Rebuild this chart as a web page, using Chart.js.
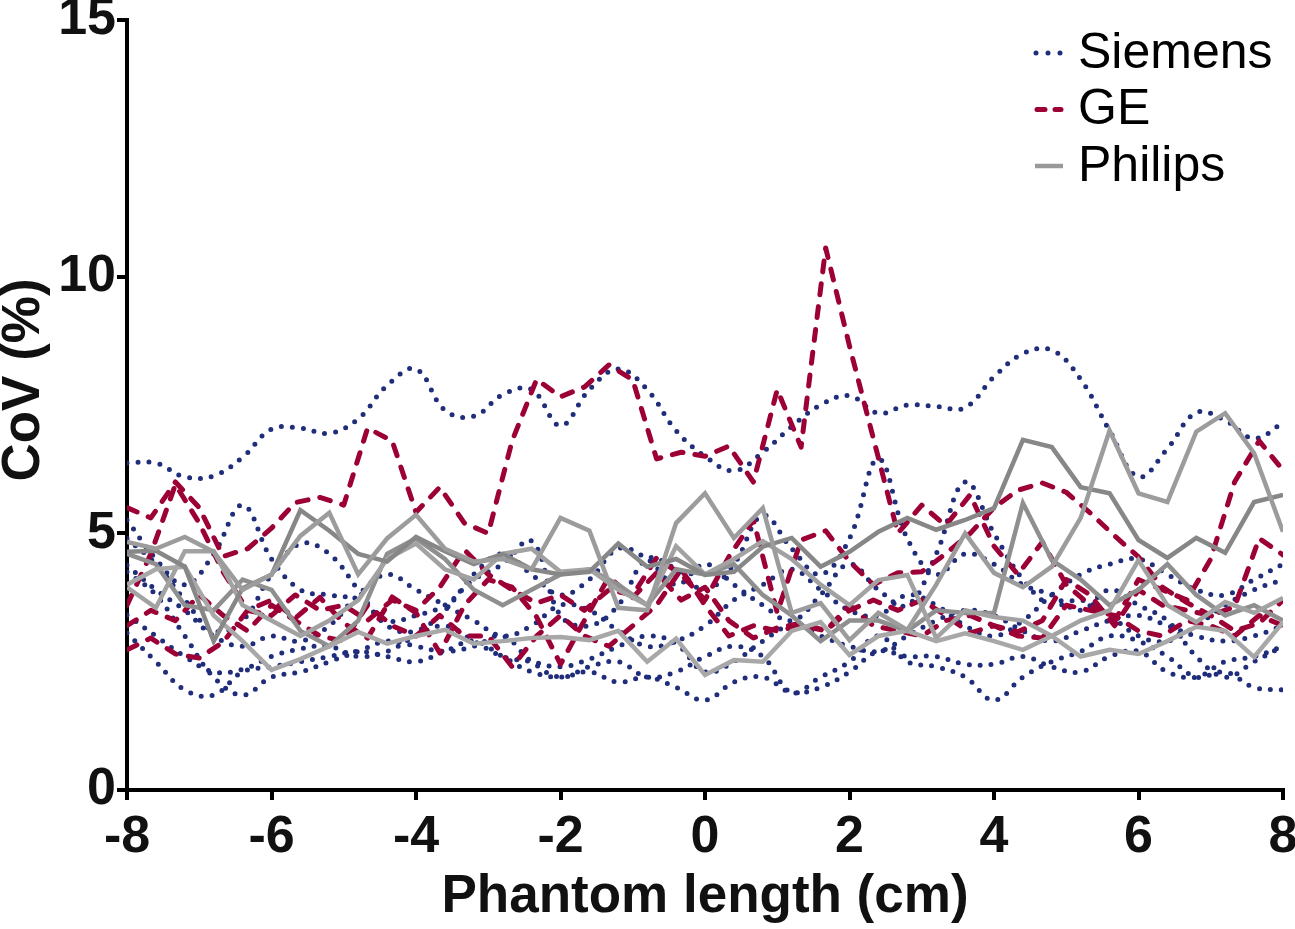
<!DOCTYPE html>
<html>
<head>
<meta charset="utf-8">
<title>CoV along phantom length</title>
<script src="https://cdn.jsdelivr.net/npm/chart.js@4.4.1/dist/chart.umd.min.js"></script>
<style>
    body { margin: 0; background: #ffffff; }
    #wrap { width: 1295px; height: 929px; }
</style>
</head>
<body>
<div id="wrap"><canvas id="covChart"></canvas></div>
<script>
// Positions along the phantom (cm)
const xGrid = [-8, -7.6, -7.2, -6.8, -6.4, -6, -5.6, -5.2, -4.8, -4.4, -4, -3.6, -3.2, -2.8, -2.4, -2, -1.6, -1.2, -0.8, -0.4,
    0, 0.4, 0.8, 1.2, 1.6, 2, 2.4, 2.8, 3.2, 3.6, 4, 4.4, 4.8, 5.2, 5.6, 6, 6.4, 6.8, 7.2, 7.6, 8];
const xGE = [-8, -7.67, -7.33, -7, -6.67, -6.33, -6, -5.67, -5.33, -5, -4.67, -4.33, -4, -3.67, -3.33, -3, -2.67, -2.33,
    -2, -1.67, -1.33, -1, -0.67, -0.33, 0, 0.33, 0.67, 1, 1.33, 1.67, 2, 2.33, 2.67, 3, 3.33, 3.67, 4, 4.33, 4.67, 5,
    5.33, 5.67, 6, 6.33, 6.67, 7, 7.33, 7.67, 8];

// Siemens scanners (CoV %)
const siemens1 = [6.37, 6.37, 6.1, 6.12, 6.48, 7.03, 7.05, 6.95, 7.23, 7.88, 8.2, 7.4, 7.28, 7.7, 7.8, 7.1, 7.8, 8.2, 7.8, 7.0,
    6.5, 6.22, 6.58, 7.08, 7.5, 7.68, 7.34, 7.5, 7.47, 7.45, 8.05, 8.5, 8.57, 8.0, 7.0, 6.1, 6.65, 7.35, 7.2, 6.85, 7.15];
const siemens2 = [5.26, 4.5, 4.0, 4.6, 5.55, 4.5, 3.9, 3.8, 3.7, 3.3, 3.4, 3.6, 4.1, 4.4, 4.85, 3.4, 3.2, 3.6, 4.5, 4.3,
    3.9, 4.4, 5.35, 4.7, 4.2, 4.9, 6.45, 4.9, 4.2, 4.6, 4.4, 4.0, 3.8, 3.5, 3.9, 3.6, 3.3, 2.6, 2.2, 2.5, 2.8];
const siemens3 = [4.9, 4.4, 3.7, 3.1, 3.3, 4.2, 4.8, 4.6, 3.9, 3.2, 3.1, 3.5, 4.2, 4.6, 4.2, 3.8, 4.1, 4.7, 4.5, 4.0,
    4.4, 4.0, 3.6, 3.3, 3.8, 4.4, 3.9, 3.6, 4.6, 6.0, 5.0, 4.1, 3.6, 3.7, 3.4, 3.0, 2.9, 3.2, 3.6, 3.9, 4.1];
const siemens4 = [4.38, 3.9, 3.5, 3.0, 2.8, 3.0, 2.9, 3.2, 3.8, 4.2, 3.9, 3.6, 3.3, 3.0, 3.2, 3.6, 3.5, 3.1, 2.8, 2.9,
    3.2, 3.7, 4.0, 4.3, 3.9, 3.5, 3.4, 3.8, 3.6, 3.2, 3.0, 3.3, 3.8, 4.2, 4.4, 4.5, 4.2, 3.9, 3.8, 4.1, 4.4];
const siemens5 = [3.41, 3.0, 2.6, 2.3, 2.35, 2.6, 2.75, 2.8, 2.6, 2.7, 3.0, 3.2, 2.9, 2.6, 2.5, 2.4, 2.55, 2.8, 3.0, 2.85,
    2.3, 2.5, 2.9, 3.2, 3.0, 2.8, 2.7, 3.0, 3.3, 3.5, 3.4, 3.1, 2.9, 3.1, 3.3, 3.4, 3.2, 3.0, 2.9, 3.0, 3.2];
const siemens6 = [3.06, 2.5, 1.95, 1.85, 2.3, 2.4, 2.5, 2.6, 2.7, 2.6, 2.5, 2.7, 2.9, 2.6, 2.3, 2.2, 2.3, 2.1, 2.2, 2.0,
    1.75, 2.1, 2.2, 1.9, 2.0, 2.3, 2.7, 2.6, 2.6, 2.45, 2.45, 2.6, 2.4, 2.3, 2.6, 2.7, 2.3, 2.2, 2.5, 2.6, 2.8];
const siemens7 = [4.25, 3.8, 3.0, 2.2, 1.85, 2.2, 2.3, 2.5, 2.7, 2.9, 2.8, 2.7, 2.8, 3.0, 2.5, 2.2, 2.4, 2.5, 2.2, 2.3,
    2.6, 2.8, 2.6, 1.9, 2.2, 2.5, 3.0, 2.5, 2.4, 2.2, 1.75, 2.2, 2.5, 2.7, 3.0, 2.9, 2.6, 2.2, 2.3, 2.0, 1.95];

// GE scanners (CoV %)
const ge1 = [5.5, 5.3, 6.0, 5.5, 4.55, 4.7, 5.1, 5.6, 5.7, 5.55, 7.05, 6.8, 5.41, 5.9, 5.2, 5.0, 6.8, 8.0, 7.66, 7.85,
    8.28, 7.99, 6.45, 6.58, 6.5, 6.7, 6.0, 7.8, 6.68, 10.56, 8.65, 6.85, 5.0, 5.55, 5.15, 5.75, 4.75, 4.2, 4.83, 4.0,
    3.6, 3.3, 4.1, 3.9, 3.7, 4.5, 6.0, 6.8, 6.23];
const ge2 = [2.73, 2.96, 2.65, 2.57, 2.88, 3.5, 3.7, 3.35, 3.75, 3.25, 2.96, 3.76, 3.45, 2.67, 3.6, 4.1, 3.95, 3.37, 2.45, 3.3,
    4.15, 3.75, 4.23, 3.7, 3.95, 3.3, 2.96, 3.16, 3.25, 3.1, 3.5, 3.7, 3.5, 3.7, 3.4, 3.06, 3.2, 3.08, 3.3, 4.1,
    3.8, 3.2, 3.9, 3.6, 3.5, 3.4, 3.57, 4.9, 4.58];
const ge3 = [3.6, 4.6, 5.95, 5.2, 4.25, 3.5, 3.4, 3.8, 3.5, 3.6, 3.3, 3.7, 3.5, 3.95, 4.68, 4.2, 3.9, 3.64, 3.8, 3.5,
    3.9, 3.8, 4.52, 4.2, 3.7, 4.54, 5.26, 3.45, 4.87, 5.05, 4.45, 4.0, 4.23, 4.25, 4.6, 5.0, 5.5, 5.84, 5.98, 5.8,
    5.4, 4.95, 4.54, 3.95, 3.65, 3.4, 3.1, 3.25, 3.7];
const ge4 = [3.2, 3.5, 3.3, 3.8, 3.4, 3.1, 3.6, 3.3, 3.0, 2.9, 3.6, 3.2, 3.0, 3.4, 3.0, 3.0, 2.4, 3.0, 3.4, 3.0,
    2.8, 3.2, 3.6, 4.3, 3.6, 3.0, 3.2, 3.1, 3.2, 3.1, 3.6, 3.2, 3.1, 3.0, 3.3, 3.4, 3.2, 3.0, 2.96, 3.6,
    3.5, 3.4, 3.1, 3.0, 3.3, 3.2, 3.0, 3.4, 3.2];

// Philips scanners (CoV %)
const philips1 = [4.83, 4.7, 4.93, 4.64, 3.9, 4.2, 4.95, 5.4, 4.2, 4.9, 5.36, 4.7, 4.45, 4.5, 4.3, 5.3, 5.05, 3.55, 3.5, 5.2,
    5.78, 4.91, 5.49, 3.45, 3.64, 2.92, 3.45, 3.12, 4.0, 5.0, 4.23, 3.95, 4.35, 5.3, 7.0, 5.78, 5.61, 6.98, 7.34, 6.56, 5.03];
const philips2 = [4.64, 4.66, 4.35, 2.9, 3.93, 4.19, 5.45, 5.05, 4.6, 4.45, 4.93, 4.65, 4.4, 4.6, 4.3, 4.2, 4.25, 4.8, 4.35, 4.5,
    4.19, 4.25, 4.74, 4.91, 4.35, 4.64, 5.03, 5.3, 5.07, 5.26, 5.49, 6.82, 6.68, 5.9, 5.78, 4.87, 4.52, 4.91, 4.62, 5.61, 5.75];
const philips3 = [4.0, 4.3, 4.35, 3.4, 2.9, 2.34, 2.55, 2.8, 3.08, 2.85, 3.0, 3.12, 2.85, 2.9, 2.96, 2.98, 2.92, 3.1, 2.5, 2.95,
    2.24, 2.53, 2.5, 3.1, 3.27, 2.63, 3.0, 3.1, 2.9, 3.05, 2.9, 2.73, 3.0, 2.6, 2.73, 2.65, 2.9, 3.18, 3.1, 2.59, 3.27];
const philips4 = [3.95, 3.55, 4.65, 4.65, 3.6, 3.3, 3.0, 3.3, 3.7, 4.5, 4.8, 4.3, 4.1, 4.6, 4.7, 4.25, 4.3, 3.9, 3.6, 4.75,
    4.2, 4.5, 4.85, 4.5, 4.0, 3.6, 4.09, 4.19, 2.96, 3.5, 3.37, 3.3, 3.0, 3.3, 3.5, 4.48, 3.6, 3.27, 3.66, 3.45, 3.74];
const philips5 = [4.6, 4.4, 3.6, 3.5, 4.1, 3.9, 3.1, 2.8, 3.3, 4.6, 4.9, 4.5, 3.9, 3.6, 3.9, 4.2, 4.3, 4.0, 3.6, 4.3,
    4.2, 4.4, 3.8, 3.4, 2.9, 3.3, 3.3, 3.1, 3.5, 3.45, 3.45, 5.59, 4.48, 4.1, 3.6, 3.9, 4.4, 3.8, 3.4, 3.6, 3.3];

const vendors = ['Siemens', 'GE', 'Philips'];
const siemensSeries = [siemens1, siemens2, siemens3, siemens4, siemens5, siemens6, siemens7];
const geSeries = [ge1, ge2, ge3, ge4];
const philipsSeries = [philips1, philips2, philips3, philips4, philips5];
const philipsGreys = ['#9c9c9c', '#878787', '#a8a8a8', '#a2a2a2', '#8f8f8f'];
const yTitle = 'CoV (%)';

const FONT = '"Liberation Sans", Arial, Helvetica, sans-serif';
const SIEMENS_BLUE = '#1f2d7b';
const GE_RED = '#9c0036';

// Line style of each vendor, shared by the plot and the legend
const vendorStyles = {
    'Siemens': { color: SIEMENS_BLUE, width: 5, dash: [0, 11], cap: 'round' },
    'GE': { color: GE_RED, width: 5, dash: [11, 12], cap: 'round' },
    'Philips': { color: '#999999', width: 4.5, dash: [], cap: 'butt' }
};

function toPoints(xs, values) {
    return values.map((v, i) => ({ x: xs[i], y: v }));
}

// Build datasets
const datasets = [];

siemensSeries.forEach(values => {
    const s = vendorStyles['Siemens'];
    datasets.push({
        label: 'Siemens',
        data: toPoints(xGrid, values),
        borderColor: s.color,
        borderWidth: s.width,
        borderDash: s.dash,
        borderCapStyle: s.cap,
        tension: 0.4,
        order: 3
    });
});

geSeries.forEach(values => {
    const s = vendorStyles['GE'];
    datasets.push({
        label: 'GE',
        data: toPoints(xGE, values),
        borderColor: s.color,
        borderWidth: s.width,
        borderDash: s.dash,
        borderCapStyle: s.cap,
        borderJoinStyle: 'round',
        tension: 0,
        order: 2
    });
});

philipsSeries.forEach((values, i) => {
    datasets.push({
        label: 'Philips',
        data: toPoints(xGrid, values),
        borderColor: philipsGreys[i],
        borderWidth: vendorStyles['Philips'].width,
        borderJoinStyle: 'miter',
        tension: 0,
        order: 1
    });
});

// Legend with one entry per vendor, plus the y axis title
const vendorLegend = {
    id: 'vendorLegend',
    afterDraw(chart) {
        const ctx = chart.ctx;
        ctx.save();
        vendors.forEach((name, i) => {
            const s = vendorStyles[name];
            const y = 53 + i * 56.5;
            ctx.strokeStyle = s.color;
            ctx.lineWidth = s.width;
            ctx.lineCap = s.cap;
            ctx.beginPath();
            if (name === 'GE') {
                ctx.setLineDash([8, 10]);
                ctx.moveTo(1037, y);
                ctx.lineTo(1061, y);
            } else if (name === 'Siemens') {
                ctx.setLineDash([0, 12]);
                ctx.moveTo(1036, y);
                ctx.lineTo(1062, y);
            } else {
                ctx.setLineDash([]);
                ctx.moveTo(1035, y);
                ctx.lineTo(1063, y);
            }
            ctx.stroke();
            ctx.setLineDash([]);
            ctx.fillStyle = '#000000';
            ctx.font = '50px ' + FONT;
            ctx.textAlign = 'left';
            ctx.textBaseline = 'middle';
            ctx.fillText(name, 1078, y + 1);
        });

        // Y axis title, rotated
        ctx.translate(24, 380);
        ctx.rotate(-Math.PI / 2);
        ctx.font = 'bold 53px ' + FONT;
        ctx.fillStyle = '#111111';
        ctx.textAlign = 'center';
        ctx.textBaseline = 'middle';
        ctx.fillText(yTitle, 0, 0);
        ctx.restore();
    }
};

const tickFont = { family: FONT, size: 52, weight: 'bold' };
const titleFont = { family: FONT, size: 53, weight: 'bold' };

// Create chart
const ctx = document.getElementById('covChart').getContext('2d');

new Chart(ctx, {
    type: 'line',
    data: { datasets: datasets },
    options: {
        responsive: true,
        maintainAspectRatio: false,
        animation: false,
        layout: { padding: { top: 20, right: 12, left: 0, bottom: 0 } },
        elements: { point: { radius: 0, hoverRadius: 0 } },
        plugins: {
            legend: { display: false },
            tooltip: { enabled: false }
        },
        scales: {
            x: {
                type: 'linear',
                min: -8,
                max: 8,
                afterFit: scale => {
                    scale.height = 139;
                    scale.paddingLeft = 0;
                    scale.paddingRight = 0;
                },
                ticks: { stepSize: 2, font: tickFont, color: '#111111', padding: 6, maxRotation: 0 },
                grid: { drawOnChartArea: false, drawTicks: true, tickLength: 10, lineWidth: 4, color: '#000000' },
                border: { display: true, color: '#000000', width: 4 },
                title: {
                    display: true,
                    text: 'Phantom length (cm)',
                    font: titleFont,
                    color: '#111111',
                    padding: { top: 0, bottom: 0 }
                }
            },
            y: {
                min: 0,
                max: 15,
                afterFit: scale => {
                    scale.width = 127;
                    scale.paddingTop = 0;
                    scale.paddingBottom = 0;
                },
                ticks: { stepSize: 5, font: tickFont, color: '#111111', padding: 1 },
                grid: { drawOnChartArea: false, drawTicks: true, tickLength: 10, lineWidth: 4, color: '#000000' },
                border: { display: true, color: '#000000', width: 4 }
            }
        }
    },
    plugins: [vendorLegend]
});
</script>
</body>
</html>
